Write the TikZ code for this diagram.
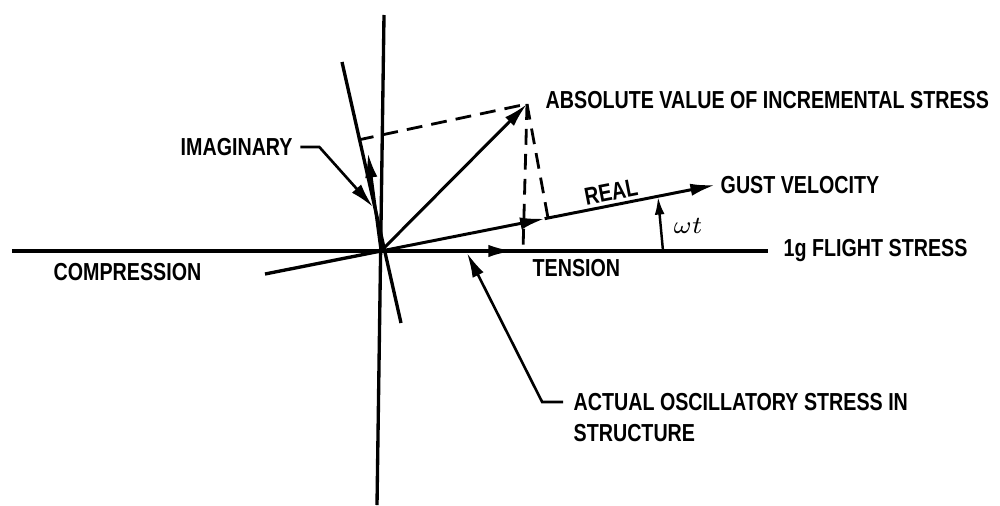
\documentclass[tikz,border=0pt]{standalone}
\usepackage{fontspec}
\setmainfont{Liberation Sans}[FakeStretch=0.8]
\usetikzlibrary{arrows.meta, positioning, calc}

\tikzset{
  axis/.style={line width=0.95pt},
  vec/.style={line width=0.85pt, ->},
  leader/.style={line width=0.75pt, ->},
  proj/.style={line width=0.8pt, dash pattern=on 4.5pt off 2.6pt},
  lbl/.style={font=\fontsize{7}{8.8}\selectfont\bfseries, inner sep=0pt, anchor=west},
}

\begin{document}
\begin{tikzpicture}[>={Latex[length=7pt,width=3.5pt]}]
  \useasboundingbox (-3.81,-2.54) rectangle (6.19,2.51);

  % --- axes ---
  \coordinate (O) at (0,0);
  \coordinate (hleft) at (-3.69,0);
  \coordinate (hright) at (3.87,0);
  \coordinate (vtop) at (0.03,2.36);
  \coordinate (vbot) at (-0.04,-2.54);
  \draw[axis] (hleft) -- (hright);
  \draw[axis] (vtop) -- (vbot);

  % --- rotated imaginary axis ---
  \coordinate (itop) at (-0.39,1.89);
  \coordinate (ibot) at (0.20,-0.72);
  \draw[axis] (itop) -- (ibot);

  % --- real axis, along the gust velocity ---
  \coordinate (rtail) at (-1.16,-0.23);
  \coordinate (gust) at (3.34,0.66);
  \coordinate (rmid) at ($(O)!0.49!(gust)$);
  \draw[axis] (rtail) -- (O);
  \draw[vec] (O) -- (rmid);
  \draw[vec] (rmid) -- (gust);

  % --- stress vectors ---
  \coordinate (abs) at (1.46,1.47);
  \coordinate (imag) at (-0.13,0.98);
  \coordinate (act) at (1.32,0);
  \draw[vec] (O) -- (abs);
  \draw[vec] (O) -- (imag);
  \draw[vec] (O) -- (act);

  % --- projections of the absolute value ---
  \coordinate (iproj) at (-0.23,1.11);
  \coordinate (hproj) at (1.42,0);
  \coordinate (rproj) at (1.67,0.33);
  \draw[proj] (iproj) -- (abs);
  \draw[proj] (abs) -- (hproj);
  \draw[proj] (abs) -- (rproj);

  % --- phase angle ---
  \coordinate (wbase) at (2.82,0);
  \coordinate (wtip) at (2.77,0.54);
  \draw[line width=0.7pt, -{Latex[length=5pt,width=2.8pt]}] (wbase) -- (wtip);
  \node[font=\fontsize{7}{8}\selectfont] (wt) at (3.07,0.25) {$\omega t$};

  % --- labels ---
  \node[lbl] (absl) at (1.64,1.51) {ABSOLUTE VALUE OF INCREMENTAL STRESS};
  \node[lbl] (gustl) at (3.39,0.66) {GUST VELOCITY};
  \node[lbl, anchor=base west] (flight) at (4.02,-0.05) {1g FLIGHT STRESS};
  \node[lbl] (comp) at (-3.28,-0.21) {COMPRESSION};
  \node[lbl] (tens) at (1.51,-0.17) {TENSION};
  \node[lbl, anchor=center, rotate=11] (real) at (2.30,0.59) {REAL};
  \node[lbl] (imagl) at (-2.01,1.04) {IMAGINARY};
  \node[lbl] (actl) at (1.92,-1.51) {ACTUAL OSCILLATORY STRESS IN};
  \node[lbl, anchor=base west] (actl2) at ([yshift=-8.8pt]actl.base west) {STRUCTURE};

  % --- leaders ---
  \coordinate (imagtip) at (-0.08,0.44);
  \coordinate (acttip) at (0.86,-0.02);
  \draw[leader] ([xshift=2pt]imagl.east) -- ++(0.19,0) -- (imagtip);
  \draw[leader] ([xshift=-2.8pt]actl.west) -- ++(-0.21,0) -- (acttip);

\end{tikzpicture}
\end{document}
